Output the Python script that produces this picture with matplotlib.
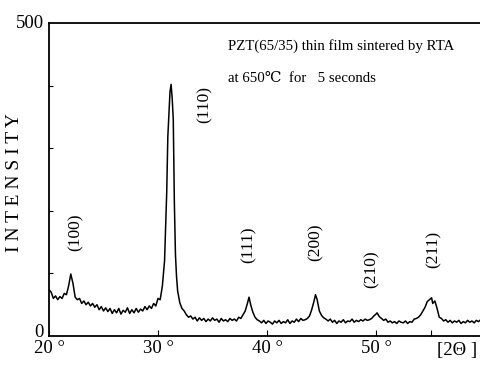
import matplotlib
matplotlib.use("Agg")
import matplotlib.pyplot as plt

# XRD pattern (2-theta in degrees, intensity in counts)
two_theta = [
    20.0, 20.2, 20.4, 20.6, 20.8, 21.0, 21.2, 21.4, 21.6, 21.8,
    22.0, 22.2, 22.4, 22.6, 22.8, 23.0, 23.2, 23.4, 23.6, 23.8,
    24.0, 24.2, 24.4, 24.6, 24.8, 25.0, 25.2, 25.4, 25.6, 25.8,
    26.0, 26.2, 26.4, 26.6, 26.8, 27.0, 27.2, 27.4, 27.6, 27.8,
    28.0, 28.2, 28.4, 28.6, 28.8, 29.0, 29.2, 29.4, 29.6, 29.8,
    30.0, 30.2, 30.4, 30.6, 30.8, 30.9, 31.0, 31.1, 31.2, 31.3,
    31.4, 31.5, 31.6, 31.7, 31.8, 32.0, 32.2, 32.4, 32.6, 32.8,
    33.0, 33.2, 33.4, 33.6, 33.8, 34.0, 34.2, 34.4, 34.6, 34.8,
    35.0, 35.2, 35.4, 35.6, 35.8, 36.0, 36.2, 36.4, 36.6, 36.8,
    37.0, 37.2, 37.4, 37.6, 37.8, 38.0, 38.2, 38.35, 38.5, 38.7,
    38.9, 39.1, 39.3, 39.5, 39.7, 39.9, 40.1, 40.3, 40.5, 40.7,
    40.9, 41.1, 41.3, 41.5, 41.7, 41.9, 42.1, 42.3, 42.5, 42.7,
    42.9, 43.1, 43.3, 43.5, 43.7, 43.9, 44.1, 44.3, 44.45, 44.6,
    44.8, 45.0, 45.2, 45.4, 45.6, 45.8, 46.0, 46.2, 46.4, 46.6,
    46.8, 47.0, 47.2, 47.4, 47.6, 47.8, 48.0, 48.2, 48.4, 48.6,
    48.8, 49.0, 49.2, 49.4, 49.6, 49.8, 50.0, 50.1, 50.3, 50.5,
    50.7, 50.9, 51.1, 51.3, 51.5, 51.7, 51.9, 52.1, 52.3, 52.5,
    52.7, 52.9, 53.1, 53.3, 53.5, 53.7, 53.9, 54.1, 54.3, 54.5,
    54.7, 54.9, 55.1, 55.2, 55.4, 55.6, 55.8, 56.0, 56.2, 56.4,
    56.6, 56.8, 57.0, 57.2, 57.4, 57.6, 57.8, 58.0, 58.2, 58.4,
    58.6, 58.8, 59.0, 59.2, 59.4, 59.6,
]
intensity = [
    74, 70, 60, 64, 58, 63, 60, 68, 66, 80,
    99, 84, 62, 58, 60, 52, 56, 50, 54, 48,
    52, 46, 50, 42, 47, 40, 45, 39, 44, 36,
    42, 37, 44, 35, 41, 38, 45, 36, 42, 37,
    44, 38, 43, 40, 47, 42, 48, 44, 52, 48,
    60, 58, 80, 120, 230, 318, 355, 390, 402, 380,
    346, 213, 130, 95, 72, 53, 44, 40, 34, 30,
    32, 27, 30, 24, 29, 25, 28, 23, 27, 24,
    29, 25, 27, 22, 28, 24, 26, 23, 28, 25,
    27, 24, 30, 28, 34, 40, 52, 62, 50, 38,
    30, 26, 24, 21, 25, 20, 24, 22, 19, 24,
    21, 25, 20, 23, 21, 26, 20, 24, 22, 27,
    23, 28, 25, 26, 28, 32, 42, 55, 66, 58,
    40, 33, 29, 27, 24, 27, 22, 25, 20, 24,
    22, 26, 21, 24, 23, 27, 22, 25, 23, 26,
    24, 27, 25, 26, 28, 32, 35, 37, 31, 28,
    25, 27, 22, 24, 21, 23, 20, 24, 22, 21,
    24, 20, 23, 22, 27, 28, 30, 34, 40, 46,
    55, 58, 61, 52, 56, 44, 30, 28, 24, 26,
    22, 25, 21, 24, 22, 25, 20, 23, 21, 25,
    22, 24, 21, 25, 23, 26,
]

peak_labels = ["(100)", "(110)", "(111)", "(200)", "(210)", "(211)"]
label_x = [22.4, 34.3, 38.3, 44.5, 49.6, 55.3]
label_y = [166, 370, 146, 149, 106, 138]

x_ticks = [20, 30, 40, 50]
x_ticklabels = ["20 \u00b0", "30 \u00b0", "40 \u00b0", "50 \u00b0"]

serif = ["Liberation Serif", "DejaVu Serif", "DejaVu Sans"]
plt.rcParams["font.family"] = serif

fig = plt.figure(figsize=(4.81, 3.65), dpi=100)
ax = fig.add_axes([49 / 481, 29 / 365, 432 / 481, 313 / 365])

ax.plot(two_theta, intensity, color="black", linewidth=1.1)

ax.set_xlim(20, 59.63)
ax.set_ylim(0, 500)

ax.spines["right"].set_visible(False)
for s in ["left", "bottom", "top"]:
    ax.spines[s].set_linewidth(1.3)

ax.set_xticks(x_ticks + [55])
ax.set_xticklabels(x_ticklabels + [""], fontsize=13.5)
ax.tick_params(axis="x", direction="in", length=4, pad=3)
for lbl in ax.get_xticklabels():
    lbl.set_horizontalalignment("center")

# y axis: only the two end values are labelled, small inward marks between
ax.set_yticks([100, 200, 300, 400])
ax.set_yticklabels([])
ax.tick_params(axis="y", direction="in", length=3)
ax.text(-0.012, 1.0, "500", transform=ax.transAxes, fontsize=13.5,
        ha="right", va="center")
ax.text(-0.012, 0.01, "0", transform=ax.transAxes, fontsize=13.5,
        ha="right", va="center")

ax.text(57.4, -10, "[2\u0398 ]", fontsize=13.5, ha="center", va="top",
        clip_on=False)

fig.text(15 / 481, 182 / 365, "I N T E N S I T Y", fontsize=14,
         rotation=90, ha="center", va="center")

for lab, lx, ly in zip(peak_labels, label_x, label_y):
    ax.text(lx, ly, lab, rotation=90, fontsize=12.5, ha="center", va="center")

ax.text(36.4, 463, "PZT(65/35) thin film sintered by RTA", fontsize=10.7,
        ha="left", va="center")
ax.text(36.4, 412, "at 650\u2103  for   5 seconds", fontsize=10.7,
        ha="left", va="center")

fig.savefig("out.png", dpi=100)
